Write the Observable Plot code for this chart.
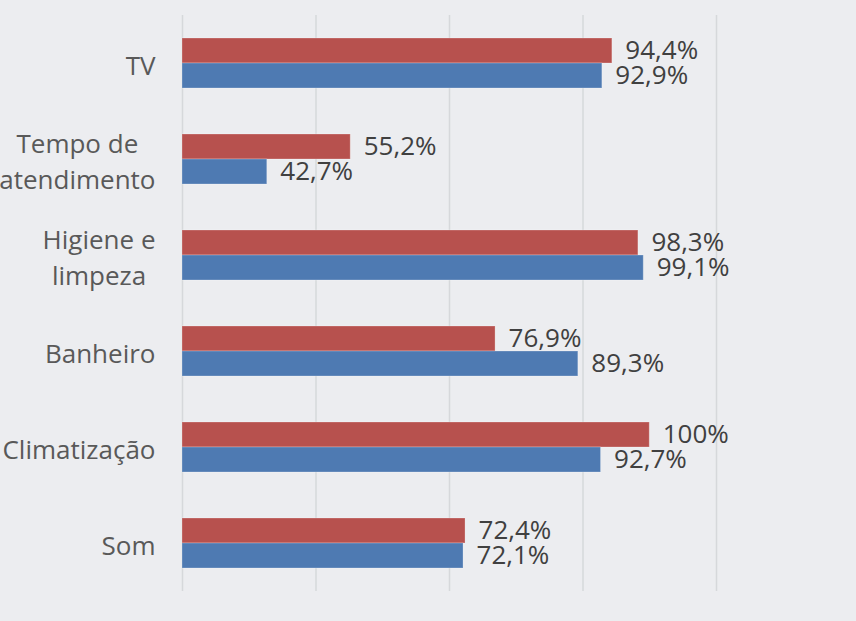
<!DOCTYPE html>
<html><head><meta charset="utf-8">
<script src="https://cdn.jsdelivr.net/npm/d3@7"></script>
<script src="https://cdn.jsdelivr.net/npm/@observablehq/plot@0.6"></script>
<style>html,body{margin:0;padding:0;background:#ecedf0;overflow:hidden;}</style>
</head><body><div id="chart"></div>
<script>
const categories = ["TV", "Tempo de\natendimento", "Higiene e\nlimpeza", "Banheiro", "Climatização", "Som"];
const series = ["Série 2", "Série 1"]; // red (top), blue (bottom)
const serieRed = [94.4, 55.2, 98.3, 76.9, 100, 72.4];
const serieBlue = [92.9, 42.7, 99.1, 89.3, 92.7, 72.1];
const xTicks = [30, 50, 70, 90, 110];
const xMin = 30, xMax = 110;
const colors = ["#b7514e", "#4e7ab2"];

const fmt = v => (Number.isInteger(v) ? String(v) : v.toFixed(1).replace(".", ",")) + "%";

const data = categories.flatMap((c, i) => [
  {cat: c, serie: series[0], value: serieRed[i]},
  {cat: c, serie: series[1], value: serieBlue[i]}
]);

const chart = Plot.plot({
  width: 856, height: 621,
  marginLeft: 182, marginRight: 140, marginTop: 13, marginBottom: 29,
  style: {background: "#ecedf0", fontFamily: "'Open Sans', sans-serif"},
  x: {domain: [xMin, xMax], axis: null},
  fy: {domain: categories, padding: 0, label: null},
  y: {domain: series, paddingInner: 0, paddingOuter: 0.89, axis: null},
  color: {domain: series, range: colors},
  marks: [
    Plot.gridX(xTicks, {stroke: "#d6d8db", strokeOpacity: 1, strokeWidth: 1.5}),
    Plot.barX(data, {fy: "cat", y: "serie", x1: xMin, x2: "value", fill: "serie", stroke: "#ffffff", strokeOpacity: 0.25, strokeWidth: 1}),
    Plot.text(data, {fy: "cat", y: "serie", x: "value", text: d => fmt(d.value), textAnchor: "start", dx: 13, fontSize: 26, fill: "#404040"}),
    Plot.axisFy({anchor: "left", tickSize: 0, tickPadding: 27, fontSize: 26, color: "#595959", lineHeight: 1.38, label: null})
  ]
});
document.getElementById("chart").appendChild(chart);

// center multi-line category labels within their block (right aligned block)
d3.select(chart).selectAll('g[aria-label="fy-axis tick label"] text').each(function() {
  const tspans = d3.select(this).selectAll("tspan");
  if (tspans.size() > 1) {
    let W = 0;
    tspans.each(function() { W = Math.max(W, this.getComputedTextLength()); });
    d3.select(this).attr("text-anchor", "middle");
    tspans.attr("x", -W / 2);
  }
});
</script>
</body></html>
